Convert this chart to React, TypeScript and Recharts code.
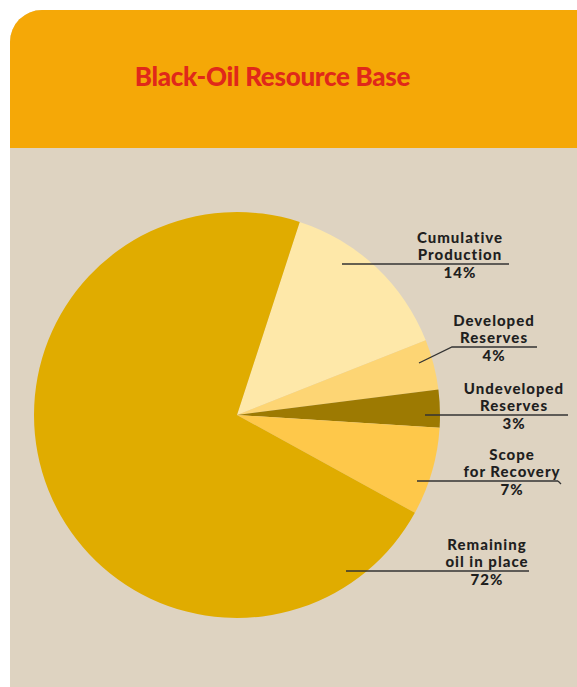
import { PieChart, Pie, Cell } from 'recharts';

const CATEGORIES = ['Cumulative Production', 'Developed Reserves', 'Undeveloped Reserves', 'Scope for Recovery', 'Remaining oil in place'];
const SHARES = [14, 4, 3, 7, 72];
const LABEL_LINES = [
  ['Cumulative', 'Production'],
  ['Developed', 'Reserves'],
  ['Undeveloped', 'Reserves'],
  ['Scope', 'for Recovery'],
  ['Remaining', 'oil in place'],
];

const COLORS = ['#FEE8A9', '#FDD574', '#9D7A02', '#FEC84A', '#E0AC00'];

// callout layout: leader start (x0,y0), horizontal from x1 to x2 at y, text centre tx
const CALLOUTS = [
  { x0: 342, y0: 264, x1: 342, x2: 509, y: 264, tx: 460 },
  { x0: 419, y0: 363, x1: 452, x2: 537, y: 347, tx: 494 },
  { x0: 425, y0: 415, x1: 425, x2: 568, y: 415, tx: 514 },
  { x0: 417, y0: 481, x1: 417, x2: 558, y: 481, tx: 512 },
  { x0: 346, y0: 571, x1: 346, x2: 529, y: 571, tx: 487 },
];

const data = CATEGORIES.map((name, i) => ({ name, value: SHARES[i] }));

const FONT = 'Lato, "Open Sans", sans-serif';

function renderLabel(props: any) {
  const i = props.index;
  const c = CALLOUTS[i];
  const [l1, l2] = LABEL_LINES[i];
  return (
    <g key={`lbl-${i}`}>
      <polyline
        points={`${c.x0},${c.y0} ${c.x1},${c.y} ${c.x2},${c.y}`}
        fill="none"
        stroke="#333"
        strokeWidth={1.3}
      />
      {i === 3 && <line x1={c.x2} y1={c.y} x2={c.x2 + 3} y2={c.y + 3} stroke="#333" strokeWidth={1.3} />}
      <text
        textAnchor="middle"
        fill="#1f1f1f"
        fontFamily={FONT}
        fontWeight={900}
        fontSize={15}
        letterSpacing={1}
      >
        <tspan x={c.tx} y={c.y - 21}>{l1}</tspan>
        <tspan x={c.tx} y={c.y - 4}>{l2}</tspan>
        <tspan x={c.tx} y={c.y + 13.5}>{`${SHARES[i]}%`}</tspan>
      </text>
    </g>
  );
}

export default function App() {
  return (
    <div style={{ position: 'absolute', left: 0, top: 0, width: 577, height: 687, overflow: 'hidden', background: '#fff' }}>
      <div
        style={{
          position: 'absolute',
          left: 10,
          top: 10,
          width: 600,
          height: 720,
          background: '#DED3C1',
          borderTopLeftRadius: 32,
          borderTopRightRadius: 32,
          overflow: 'hidden',
        }}
      >
        <div style={{ height: 138, background: '#F5A807' }} />
      </div>
      <div
        style={{
          position: 'absolute',
          left: 0,
          width: 545,
          top: 61,
          textAlign: 'center',
          color: '#E0281A',
          fontFamily: FONT,
          fontWeight: 900,
          fontSize: 26,
          lineHeight: '30px',
          letterSpacing: -0.3,
        }}
      >
        Black-Oil Resource Base
      </div>
      <div style={{ position: 'absolute', left: 0, top: 0 }}>
        <PieChart width={577} height={687} margin={{ top: 0, right: 0, bottom: 0, left: 0 }}>
          <Pie
            data={data}
            dataKey="value"
            nameKey="name"
            cx={237}
            cy={415}
            outerRadius={203}
            startAngle={72}
            endAngle={-288}
            stroke="none"
            label={renderLabel}
            labelLine={false}
            isAnimationActive={false}
          >
            {data.map((d, i) => (
              <Cell key={d.name} fill={COLORS[i]} />
            ))}
          </Pie>
        </PieChart>
      </div>
    </div>
  );
}
